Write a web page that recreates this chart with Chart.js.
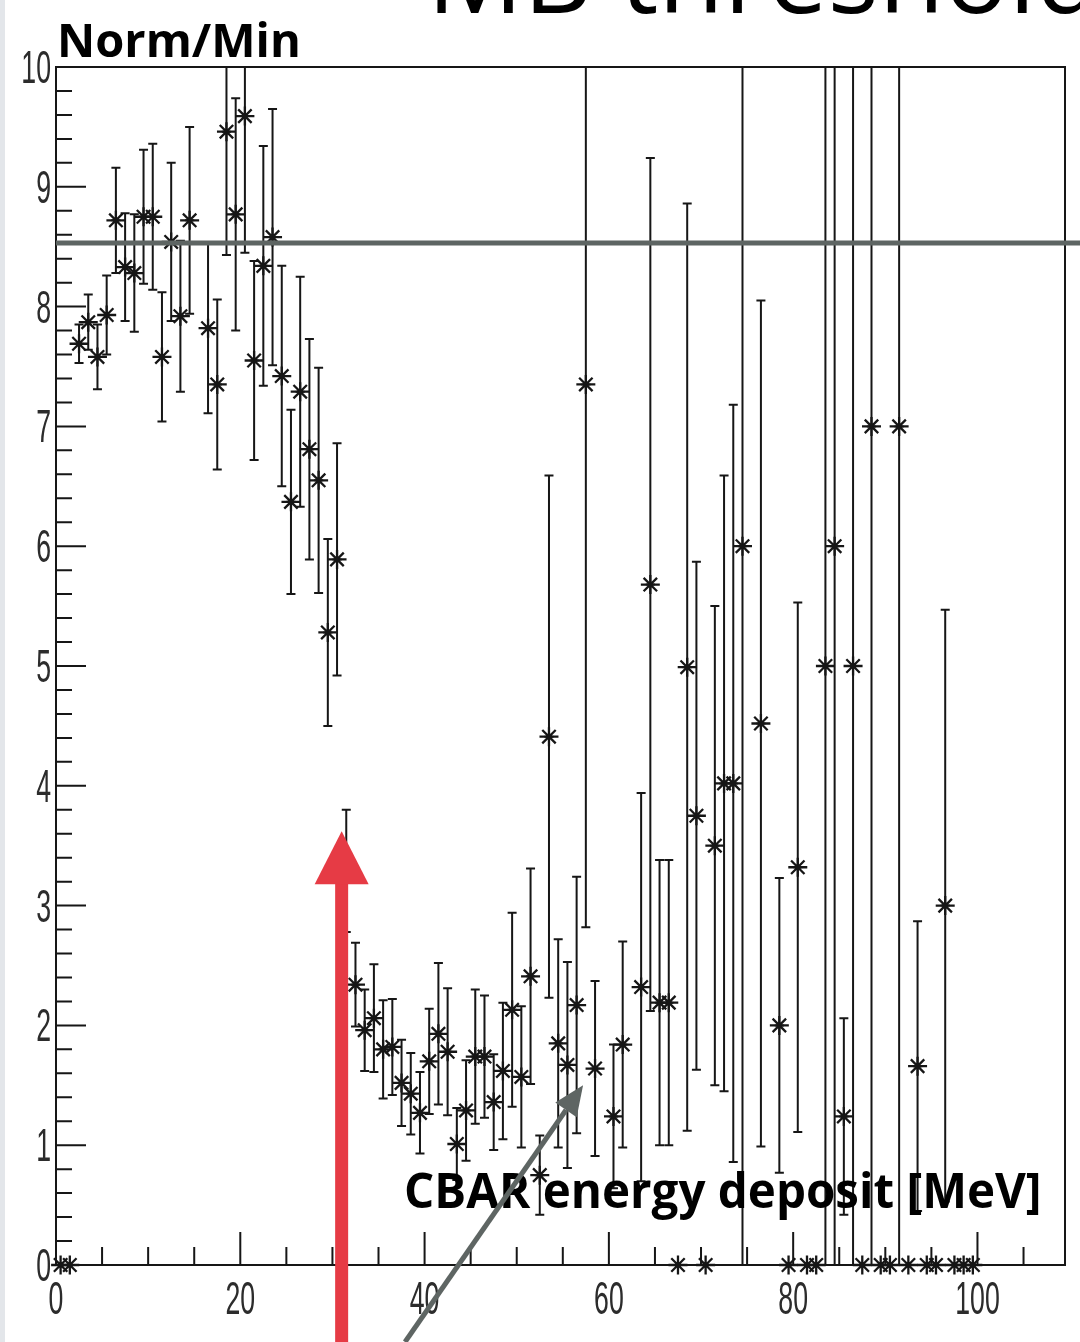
<!DOCTYPE html>
<html>
<head>
<meta charset="utf-8">
<title>Norm/Min vs CBAR energy deposit</title>
<script src="https://cdn.jsdelivr.net/npm/chart.js@4.4.1/dist/chart.umd.min.js"></script>
<style>
  html, body { margin: 0; padding: 0; background: #fff; }
  #wrap { position: relative; width: 1080px; height: 1342px; }
</style>
</head>
<body>
<div id="wrap"><canvas id="chart" width="1080" height="1342"></canvas></div>
<script>
// CBAR energy deposit bin centres [MeV] (empty bins are left out)
const energy = [
    0.5, 1.5, 2.5, 3.5, 4.5, 5.5, 6.5, 7.5, 8.5, 9.5, 10.5, 11.5, 12.5, 13.5, 14.5,
    16.5, 17.5, 18.5, 19.5, 20.5, 21.5, 22.5, 23.5, 24.5, 25.5,
    26.5, 27.5, 28.5, 29.5, 30.5,
    31.5, 32.5, 33.5, 34.5, 35.5, 36.5, 37.5, 38.5, 39.5, 40.5,
    41.5, 42.5, 43.5, 44.5, 45.5, 46.5, 47.5, 48.5, 49.5, 50.5,
    51.5, 52.5, 53.5, 54.5, 55.5, 56.5, 57.5, 58.5,
    60.5, 61.5,
    63.5, 64.5, 65.5, 66.5, 67.5, 68.5, 69.5, 70.5, 71.5, 72.5, 73.5, 74.5,
    76.5,
    78.5, 79.5, 80.5, 81.5, 82.5, 83.5, 84.5, 85.5, 86.5, 87.5, 88.5, 89.5, 90.5,
    91.5, 92.5, 93.5, 94.5, 95.5, 96.5, 97.5, 98.5, 99.5
];

// Norm/Min per bin
const norm = [
    0, 0, 7.69, 7.87, 7.58, 7.93, 8.72, 8.33, 8.28, 8.75, 8.75, 7.58, 8.54, 7.92, 8.72,
    7.82, 7.35, 9.46, 8.77, 9.59, 7.55, 8.34, 8.58, 7.42, 6.37,
    7.29, 6.81, 6.55, 5.28, 5.89,
    3.29, 2.34, 1.96, 2.06, 1.8, 1.82, 1.52, 1.43, 1.27, 1.7,
    1.93, 1.78, 1.01, 1.29, 1.74, 1.74, 1.36, 1.62, 2.13, 1.57,
    2.41, 0.75, 4.41, 1.85, 1.67, 2.17, 7.35, 1.64,
    1.24, 1.84,
    2.32, 5.68, 2.19, 2.19, 0, 4.99, 3.75, 0, 3.5, 4.02, 4.02, 6.0,
    4.52,
    2.0, 0, 3.32, 0, 0, 5.0, 6.0, 1.24, 5.0, 0, 7.0, 0, 0,
    7.0, 0, 1.66, 0, 0, 3.0, 0, 0, 0
];

// statistical error on Norm/Min
const errNorm = [
    0, 0, 0.16, 0.23, 0.27, 0.33, 0.44, 0.45, 0.49, 0.56, 0.61, 0.54, 0.66, 0.63, 0.78,
    0.71, 0.71, 1.03, 0.97, 1.14, 0.83, 1.0, 1.07, 0.92, 0.77,
    0.96, 0.92, 0.94, 0.78, 0.97,
    0.51, 0.35, 0.34, 0.45, 0.41, 0.4, 0.36, 0.34, 0.34, 0.44,
    0.59, 0.53, 0.3, 0.42, 0.56, 0.51, 0.4, 0.57, 0.81, 0.59,
    0.9, 0.33, 2.18, 0.87, 0.86, 1.07, 4.53, 0.73,
    0.6, 0.86,
    1.62, 3.56, 1.19, 1.19, 0, 3.87, 2.12, 0, 2.0, 2.57, 3.16, 6.6,
    3.53,
    1.23, 0, 2.21, 0, 0, 5.5, 6.6, 0.82, 5.5, 0, 7.7, 0, 0,
    7.7, 0, 1.21, 0, 0, 2.47, 0, 0, 0
];

const binWidth = 1;            // MeV
const energyMax = 109.5;       // upper edge of the frame
const thresholdNorm = 8.53;    // grey horizontal line
const cutEnergy = 31.0;        // red arrow position [MeV]
const cutTipNorm = 3.62;       // red arrow tip
const pointerTip = [57.2, 1.5];

const labelFont = '46px "Liberation Sans", Arial, sans-serif';
const labelSqueeze = 0.58;     // ROOT labels are very narrow
const grey = '#5e6563';
const ink = '#161616';

const points = energy.map((e, i) => ({ x: e, y: norm[i], err: errNorm[i] }));

// error bars, inside ticks, frame, axis labels and slide annotations
const rootStyle = {
    id: 'rootStyle',
    beforeDraw(chart) {
        const c = chart.ctx;
        c.save();
        c.fillStyle = '#fff';
        c.fillRect(0, 0, chart.width, chart.height);
        c.fillStyle = '#e3e6ea';
        c.fillRect(0, 0, 5, chart.height);
        c.restore();
    },
    beforeDatasetsDraw(chart) {
        const c = chart.ctx, a = chart.chartArea;
        const xs = chart.scales.x, ys = chart.scales.y;
        c.save();
        c.beginPath();
        c.rect(a.left, a.top, a.right - a.left, a.bottom - a.top);
        c.clip();
        c.strokeStyle = ink;
        c.lineWidth = 2;
        chart.data.datasets[0].data.forEach(p => {
            const px = xs.getPixelForValue(p.x);
            const py = ys.getPixelForValue(p.y);
            c.beginPath();
            c.moveTo(xs.getPixelForValue(p.x - binWidth / 2), py);
            c.lineTo(xs.getPixelForValue(p.x + binWidth / 2), py);
            if (p.err > 0) {
                const top = ys.getPixelForValue(p.y + p.err);
                const bot = ys.getPixelForValue(p.y - p.err);
                c.moveTo(px, top);
                c.lineTo(px, bot);
                c.moveTo(px - 4.5, top);
                c.lineTo(px + 4.5, top);
                c.moveTo(px - 4.5, bot);
                c.lineTo(px + 4.5, bot);
            }
            c.stroke();
        });
        c.restore();
    },
    afterDraw(chart) {
        const c = chart.ctx, a = chart.chartArea;
        const xs = chart.scales.x, ys = chart.scales.y;
        c.save();

        // frame
        c.strokeStyle = ink;
        c.lineWidth = 2;
        c.strokeRect(a.left, a.top, a.right - a.left, a.bottom - a.top);

        // ROOT style ticks, drawn inwards
        c.beginPath();
        for (let k = 0; k <= 50; k++) {
            const y = ys.getPixelForValue(k * 0.2);
            const len = k % 5 === 0 ? 30 : 16;
            c.moveTo(a.left, y);
            c.lineTo(a.left + len, y);
        }
        for (let k = 0; k * 5 <= energyMax; k++) {
            const x = xs.getPixelForValue(k * 5);
            const len = k % 4 === 0 ? 33 : 18;
            c.moveTo(x, a.bottom);
            c.lineTo(x, a.bottom - len);
        }
        c.stroke();

        // tick labels from the scales, squeezed like the ROOT font
        c.font = labelFont;
        c.fillStyle = '#2c2c2c';
        c.textBaseline = 'alphabetic';
        ys.ticks.forEach(t => {
            c.save();
            c.translate(a.left - 5, ys.getPixelForValue(t.value) + 16);
            c.scale(labelSqueeze, 1);
            c.textAlign = 'right';
            c.fillText(String(t.label), 0, 0);
            c.restore();
        });
        xs.ticks.forEach(t => {
            c.save();
            c.translate(xs.getPixelForValue(t.value), a.bottom + 49);
            c.scale(labelSqueeze, 1);
            c.textAlign = 'center';
            c.fillText(String(t.label), 0, 0);
            c.restore();
        });

        // threshold line, runs past the frame to the slide edge
        const yt = ys.getPixelForValue(thresholdNorm);
        c.strokeStyle = grey;
        c.lineWidth = 5;
        c.beginPath();
        c.moveTo(a.left, yt);
        c.lineTo(chart.width, yt);
        c.stroke();

        // slide texts
        c.fillStyle = '#000';
        c.textBaseline = 'alphabetic';
        c.textAlign = 'left';
        c.font = '107px "Open Sans"';
        c.fillText('MB threshold', 427, 13);
        c.font = 'bold 47px "Open Sans"';
        c.fillText('Norm/Min', 57, 57);
        c.font = 'bold 47.5px "Open Sans"';
        c.fillText('CBAR energy deposit [MeV]', 404, 1208);

        // red arrow at the cut
        const rx = xs.getPixelForValue(cutEnergy);
        const ry = ys.getPixelForValue(cutTipNorm);
        c.fillStyle = '#e63b45';
        c.fillRect(rx - 6.5, ry + 50, 13, chart.height - ry);
        c.beginPath();
        c.moveTo(rx, ry);
        c.lineTo(rx + 27, ry + 53);
        c.lineTo(rx - 27, ry + 53);
        c.closePath();
        c.fill();

        // grey pointer arrow to the axis title
        const gx = xs.getPixelForValue(pointerTip[0]);
        const gy = ys.getPixelForValue(pointerTip[1]);
        const slope = 177.7 / 256.2;
        const tailX = gx - (chart.height - gy) * slope;
        const ang = Math.atan2(gy - chart.height, gx - tailX);
        const hl = 30, hw = 13;
        const bx = gx - hl * Math.cos(ang), by = gy - hl * Math.sin(ang);
        c.strokeStyle = grey;
        c.lineWidth = 5;
        c.beginPath();
        c.moveTo(tailX, chart.height);
        c.lineTo(bx, by);
        c.stroke();
        c.fillStyle = grey;
        c.beginPath();
        c.moveTo(gx, gy);
        c.lineTo(bx + hw * Math.sin(ang), by - hw * Math.cos(ang));
        c.lineTo(bx - hw * Math.sin(ang), by + hw * Math.cos(ang));
        c.closePath();
        c.fill();

        c.restore();
    }
};

const ctx = document.getElementById('chart').getContext('2d');
new Chart(ctx, {
    type: 'scatter',
    data: {
        datasets: [{
            data: points,
            pointStyle: 'star',
            pointRadius: 9.5,
            pointBorderWidth: 2.3,
            pointBorderColor: ink,
            pointBackgroundColor: ink,
            borderColor: ink,
            clip: false
        }]
    },
    options: {
        responsive: false,
        animation: false,
        devicePixelRatio: 1,
        layout: { padding: { top: 67, right: 15, left: 0, bottom: 0 } },
        plugins: {
            legend: { display: false },
            tooltip: { enabled: false }
        },
        scales: {
            x: {
                type: 'linear',
                min: 0,
                max: energyMax,
                grid: { display: false, drawTicks: false },
                border: { display: false },
                ticks: { display: false, stepSize: 20, includeBounds: false },
                afterFit: s => { s.height = 77; }
            },
            y: {
                type: 'linear',
                min: 0,
                max: 10,
                grid: { display: false, drawTicks: false },
                border: { display: false },
                ticks: { display: false, stepSize: 1, includeBounds: false },
                afterFit: s => { s.width = 56; }
            }
        }
    },
    plugins: [rootStyle]
});
</script>
</body>
</html>
